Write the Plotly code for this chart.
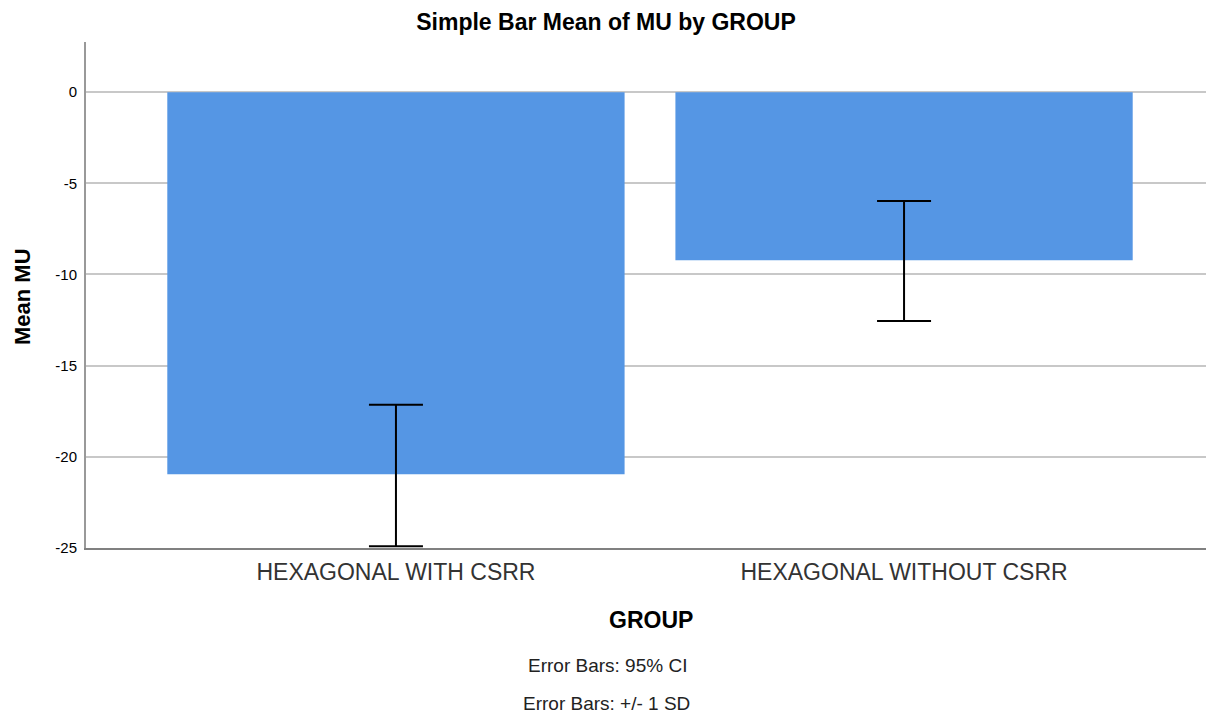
import plotly.graph_objects as go

groups = ["HEXAGONAL WITH CSRR", "HEXAGONAL WITHOUT CSRR"]
mean_mu = [-20.95, -9.22]
err_plus = [3.80, 3.25]
err_minus = [3.95, 3.33]
tick_vals = [0, -5, -10, -15, -20, -25]
tick_text = ["0", "-5", "-10", "-15", "-20", "-25"]

FONT = "Liberation Sans, Arial, sans-serif"

# page offset (body margin) = 8px
W, H = 1206, 710
L, T, B = 78, 34, 170
PW, PH = W - L, H - T - B


def px(page_x):
    return (page_x - 8 - L) / PW


def py(page_y):
    return (H - B - (page_y - 8)) / PH


fig = go.Figure()
fig.add_trace(go.Bar(
    x=[0, 1], y=mean_mu, width=0.9,
    marker=dict(color="#5596E4", line=dict(width=0)),
    error_y=dict(type="data", symmetric=False, array=err_plus, arrayminus=err_minus,
                 color="#000000", thickness=2, width=27),
    showlegend=False,
))

fig.update_layout(
    width=W, height=H,
    margin=dict(l=L, r=0, t=T, b=B),
    paper_bgcolor="white", plot_bgcolor="white",
    font=dict(family=FONT, color="#000000"),
    title=dict(text="<b>Simple Bar Mean of MU by GROUP</b>", x=(606 - 8) / W, xref="container",
               xanchor="center", y=1 - 14 / H, yanchor="middle", font=dict(size=23, family=FONT)),
    xaxis=dict(range=[-0.61, 1.61], tickvals=[0, 1], ticktext=groups, showgrid=False,
               zeroline=False, showline=True, linecolor="#808080", linewidth=2,
               ticks="", tickfont=dict(size=23, color="#333333"), ticklabelstandoff=2),
    yaxis=dict(range=[-25, 2.75], tickvals=tick_vals, ticktext=tick_text,
               showgrid=True, gridcolor="#c8c8c8", gridwidth=2, zeroline=False,
               showline=True, linecolor="#999999", linewidth=2, ticks="",
               tickfont=dict(size=15), ticklabelstandoff=4),
    annotations=[
        dict(text="<b>Mean MU</b>", x=px(22), xref="paper", y=py(297), yref="paper", textangle=-90,
             showarrow=False, font=dict(size=22), xanchor="center", yanchor="middle"),
        dict(text="<b>GROUP</b>", x=px(651), xref="paper", y=py(620), yref="paper",
             showarrow=False, font=dict(size=23), xanchor="center", yanchor="middle"),
        dict(text="Error Bars: 95% CI", x=px(607), xref="paper", y=py(665), yref="paper",
             showarrow=False, font=dict(size=19, color="#222222"), xanchor="center", yanchor="middle"),
        dict(text="Error Bars: +/- 1 SD", x=px(606), xref="paper", y=py(703), yref="paper",
             showarrow=False, font=dict(size=19, color="#222222"), xanchor="center", yanchor="middle"),
    ],
)

fig.write_html("out.html")
